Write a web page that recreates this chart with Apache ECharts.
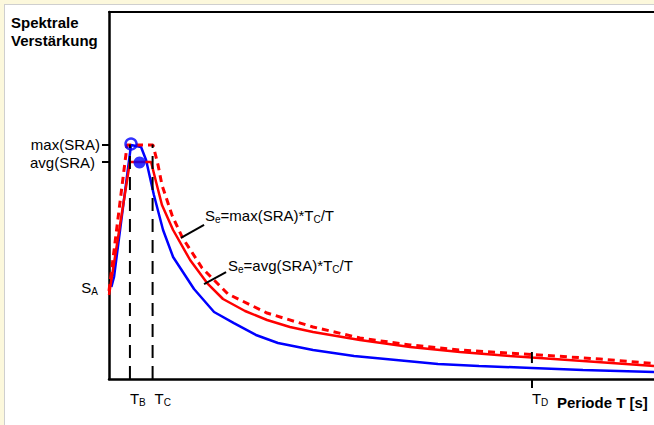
<!DOCTYPE html>
<html>
<head>
<meta charset="utf-8">
<script src="https://cdn.jsdelivr.net/npm/echarts@6/dist/echarts.min.js"></script>
<style>
html, body { margin: 0; padding: 0; background: #fcf8dc; overflow: hidden; }
#frame { position: absolute; left: 4px; top: 4px; width: 680px; height: 440px; background: #fff; border: 1px solid #cfcfcf; }
#chart { position: absolute; left: 0; top: 0; width: 654px; height: 425px; }
</style>
</head>
<body>
<div id="frame"></div>
<div id="chart"></div>
<script>
// Eckperioden und Niveaus
const T_B = 0.096;
const T_C = 0.2;
const T_D = 1.94;
const MAX_SRA = 2.556;
const AVG_SRA = 2.365;
const S_A = 0.98;

// gemessenes Spektrum (blau)
const blueData = [
  [0.011, 1.003], [0.023, 1.112], [0.101, 2.550], [0.147, 2.529], [0.170, 2.387],
  [0.206, 2.005], [0.248, 1.624], [0.294, 1.330], [0.390, 0.981], [0.482, 0.730],
  [0.573, 0.610], [0.674, 0.480], [0.775, 0.392], [0.936, 0.316], [1.124, 0.251],
  [1.317, 0.207], [1.509, 0.163], [1.697, 0.142], [1.940, 0.120], [2.174, 0.098],
  [2.500, 0.076]
];
// Se = avg(SRA)*Tc/T (rot, durchgezogen)
const avgData = [
  [0, 0.916], [0.096, 2.365], [0.193, 2.365], [0.216, 2.147], [0.243, 1.896],
  [0.294, 1.624], [0.372, 1.297], [0.450, 1.046], [0.523, 0.872], [0.624, 0.741],
  [0.725, 0.643], [0.830, 0.567], [0.936, 0.512], [1.151, 0.425], [1.381, 0.349],
  [1.610, 0.294], [1.839, 0.251], [1.940, 0.234], [2.174, 0.196], [2.500, 0.142]
];
// Se = max(SRA)*Tc/T (rot, gestrichelt)
const maxData = [
  [0, 0.959], [0.083, 2.550], [0.202, 2.550], [0.225, 2.332], [0.243, 2.114],
  [0.289, 1.787], [0.335, 1.548], [0.427, 1.210], [0.546, 0.926], [0.725, 0.719],
  [0.936, 0.567], [1.151, 0.447], [1.381, 0.371], [1.610, 0.316], [1.940, 0.267],
  [2.252, 0.218], [2.500, 0.169]
];
const maxPoint = [0.101, 2.561];
const avgPoint = [0.140, 2.360];
// Hinweislinien zu den Formeln
const leaderMax = [[0.330, 1.537], [0.436, 1.679]];
const leaderAvg = [[0.436, 1.035], [0.537, 1.166]];
const tdMark = [[T_D, 0.294], [T_D, 0.174]];

const FONT = '"Liberation Sans", Arial, sans-serif';
const sub = {
  m: { fontSize: 15, lineHeight: 15, padding: [0, 0, 3, 0], color: '#000', fontFamily: FONT },
  s: { fontSize: 10, lineHeight: 10, verticalAlign: 'bottom', color: '#000', fontFamily: FONT }
};

const chart = echarts.init(document.getElementById('chart'), null, { renderer: 'svg' });

function vline(x) {
  return {
    type: 'line',
    data: [[x, 0], [x, MAX_SRA]],
    symbol: 'none',
    silent: true,
    z: 5,
    lineStyle: { color: '#000', width: 2, type: [13, 8] }
  };
}
function blackLine(data) {
  return {
    type: 'line',
    data: data,
    symbol: 'none',
    silent: true,
    z: 5,
    lineStyle: { color: '#000', width: 2 }
  };
}

chart.setOption({
  animation: false,
  backgroundColor: 'transparent',
  grid: { left: 109, right: 0, top: 12, bottom: 46 },
  xAxis: [{
    type: 'value',
    min: 0,
    max: 2.5,
    name: 'Periode T [s]',
    nameLocation: 'end',
    nameGap: -97,
    nameTextStyle: {
      color: '#000', fontSize: 15, fontWeight: 'bold', fontFamily: FONT,
      align: 'left', verticalAlign: 'top', padding: [16, 0, 0, 0]
    },
    axisLine: { lineStyle: { color: '#000', width: 2.5 } },
    axisTick: { customValues: [T_D], length: 9, lineStyle: { color: '#000', width: 2 } },
    axisLabel: {
      customValues: [T_B, T_C, T_D],
      margin: 13,
      align: 'left',
      formatter: function (v) {
        if (Math.abs(v - T_B) < 1e-6) return '{m|T}{s|B}';
        if (Math.abs(v - T_C) < 1e-6) return '{p|}{m|T}{s|C}';
        return '{m|T}{s|D}';
      },
      rich: Object.assign({ p: { width: 2 } }, sub)
    },
    splitLine: { show: false }
  }, {
    type: 'value',
    position: 'top',
    min: 0,
    max: 2.5,
    axisLine: { show: true, lineStyle: { color: '#000', width: 2 } },
    axisTick: { show: false },
    axisLabel: { show: false },
    splitLine: { show: false }
  }],
  yAxis: {
    type: 'value',
    min: 0,
    max: 4,
    axisLine: { show: true, lineStyle: { color: '#000', width: 2.5 } },
    axisTick: { show: true, customValues: [MAX_SRA, AVG_SRA], length: 7, lineStyle: { color: '#000', width: 2 } },
    axisLabel: {
      customValues: [MAX_SRA, AVG_SRA, S_A],
      margin: 9,
      formatter: function (v) {
        if (Math.abs(v - MAX_SRA) < 1e-6) return '{t|max(SRA)}';
        if (Math.abs(v - AVG_SRA) < 1e-6) return '{t|avg(SRA)}{q|}';
        return '{m|S}{s|A}{r|}';
      },
      rich: Object.assign({
        t: { fontSize: 15, color: '#000', fontFamily: FONT },
        q: { width: 5 },
        r: { width: 2 }
      }, sub)
    },
    splitLine: { show: false }
  },
  graphic: [{
    type: 'text',
    left: 11,
    top: 13,
    style: {
      text: 'Spektrale\nVerstärkung',
      font: 'bold 15px ' + FONT,
      lineHeight: 18,
      fill: '#000'
    }
  }, {
    type: 'text',
    x: 205,
    y: 217,
    style: {
      text: '{m|S}{s|e}{m|=max(SRA)*T}{s|C}{m|/T}',
      rich: sub,
      verticalAlign: 'middle'
    }
  }, {
    type: 'text',
    x: 228,
    y: 267,
    style: {
      text: '{m|S}{s|e}{m|=avg(SRA)*T}{s|C}{m|/T}',
      rich: sub,
      verticalAlign: 'middle'
    }
  }],
  series: [{
    type: 'line',
    data: blueData,
    symbol: 'none',
    lineStyle: { color: '#0000ff', width: 2.5 }
  }, {
    type: 'line',
    data: avgData,
    symbol: 'none',
    lineStyle: { color: '#ff0000', width: 2.5 }
  }, {
    type: 'line',
    data: maxData,
    symbol: 'none',
    lineStyle: { color: '#ff0000', width: 3, type: [7, 5] }
  },
  vline(T_B),
  vline(T_C),
  blackLine(leaderMax),
  blackLine(leaderAvg),
  blackLine(tdMark),
  {
    type: 'scatter',
    data: [maxPoint],
    symbol: 'circle',
    symbolSize: 11,
    z: 6,
    itemStyle: { color: 'rgba(0,0,0,0)', borderColor: '#0000ff', borderWidth: 2.5 }
  }, {
    type: 'scatter',
    data: [avgPoint],
    symbol: 'circle',
    symbolSize: 12,
    z: 6,
    itemStyle: { color: '#0000ff' }
  }]
});
</script>
</body>
</html>
